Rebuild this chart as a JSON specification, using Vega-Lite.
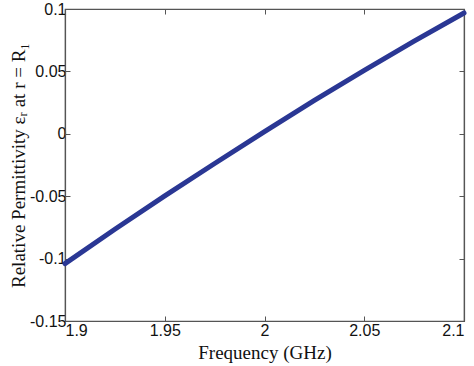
{
  "$schema": "https://vega.github.io/schema/vega-lite/v6.json",
  "autosize": {"type": "none"},
  "padding": {"left": 65, "top": 9, "right": 10, "bottom": 45},
  "width": 399,
  "height": 312,
  "background": "white",
  "config": {
    "view": {"stroke": "#555", "strokeWidth": 1.2},
    "axis": {
      "domainColor": "#555",
      "domainWidth": 1.2,
      "tickColor": "#555",
      "tickSize": -5,
      "grid": false,
      "labelFont": "Liberation Sans",
      "labelFontSize": 16,
      "labelColor": "#111",
      "titleFont": "Liberation Serif",
      "titleFontSize": 19,
      "titleFontWeight": "normal",
      "titleColor": "#111"
    }
  },
  "data": {
    "values": [
      {"f": 1.9, "e": -0.104},
      {"f": 1.925, "e": -0.0765},
      {"f": 1.95, "e": -0.0498},
      {"f": 1.975, "e": -0.0238},
      {"f": 2.0, "e": 0.0018},
      {"f": 2.025, "e": 0.0268},
      {"f": 2.05, "e": 0.0508},
      {"f": 2.075, "e": 0.0742},
      {"f": 2.1, "e": 0.0968}
    ]
  },
  "layer": [
    {
      "mark": {"type": "line", "color": "#2a3794", "strokeWidth": 5, "strokeCap": "round"},
      "encoding": {
        "x": {
          "field": "f", "type": "quantitative",
          "scale": {"domain": [1.9, 2.1], "nice": false, "zero": false},
          "axis": {
            "values": [1.9, 1.95, 2, 2.05, 2.1],
            "labelExpr": "replace(format(datum.value, '~g'), '\u2212', '-')",
            "labelPadding": 6,
            "title": "Frequency (GHz)",
            "titlePadding": 5
          }
        },
        "y": {
          "field": "e", "type": "quantitative",
          "scale": {"domain": [-0.15, 0.1], "nice": false, "zero": false},
          "axis": {
            "values": [-0.15, -0.1, -0.05, 0, 0.05, 0.1],
            "labelExpr": "replace(format(datum.value, '~g'), '\u2212', '-')",
            "labelPadding": 4,
            "title": "Relative Permittivity εᵣ at r = R₁",
            "titlePadding": 1
          }
        }
      }
    },
    {
      "mark": {"type": "line", "opacity": 0},
      "encoding": {
        "x": {
          "field": "f", "type": "quantitative",
          "scale": {"domain": [1.9, 2.1], "nice": false, "zero": false},
          "axis": {"orient": "top", "values": [1.9, 1.95, 2, 2.05, 2.1], "labels": false, "title": null}
        },
        "y": {
          "field": "e", "type": "quantitative",
          "scale": {"domain": [-0.15, 0.1], "nice": false, "zero": false},
          "axis": {"orient": "right", "values": [-0.15, -0.1, -0.05, 0, 0.05, 0.1], "labels": false, "title": null}
        }
      }
    }
  ],
  "resolve": {"axis": {"x": "independent", "y": "independent"}}
}
